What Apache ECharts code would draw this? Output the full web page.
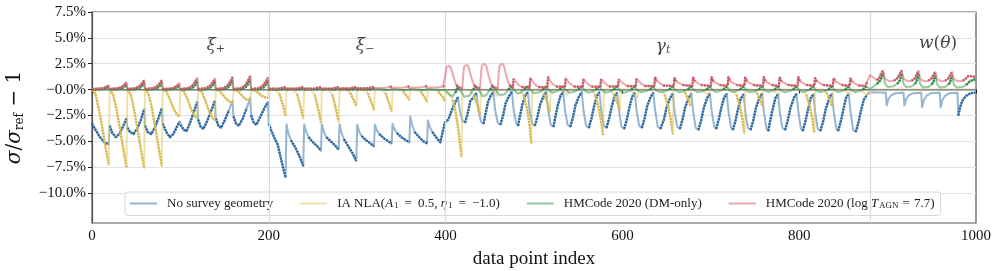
<!DOCTYPE html>
<html><head><meta charset="utf-8">
<script src="https://cdn.jsdelivr.net/npm/echarts/dist/echarts.min.js"></script>
<style>html,body{margin:0;padding:0;background:#fff}#c{width:997px;height:271px}</style>
</head><body><div id="c"></div><script>
// ---- data: [index, value(%), segment-to-next drawn with markers (1) or line only (0)] ----
const xTicks=[0,200,400,600,800,1000];
const yTicks=[-10,-7.5,-5,-2.5,0,2.5,5,7.5];
const sectionX=[140,309,646,957];
const sectionY=[4.3,4.3,4.2,4.4];
const sectionNames=['xi+','xi-','gamma_t','w(theta)'];
const separators=[200,400,880];
const legendNames=['No survey geometry','IA NLA','HMCode DM','HMCode AGN'];

const blueXiPlus=[
[0,-3.3,1],[4,-3.9,1],[9,-4.6,1],[14,-5.1,1],[19,-5.3,0],
[20,-3.5,1],[23,-4.2,1],[27,-4.6,1],[31,-4.3,1],[35,-3.6,1],[39,-2.8,0],
[40,-3.7,1],[43,-4.1,1],[47,-4.3,1],[51,-3.8,1],[55,-3.0,1],[59,-1.9,0],
[60,-3.5,1],[63,-4.1,1],[67,-4.3,1],[71,-3.7,1],[75,-2.8,1],[79,-1.8,0],
[80,-3.3,1],[84,-4.1,1],[88,-4.6,1],[92,-4.3,1],[96,-3.6,1],[99,-3.1,0],
[100,-3.4,1],[104,-3.9,1],[107,-4.0,1],[111,-3.2,1],[115,-2.2,1],[119,-1.2,0],
[120,-2.9,1],[123,-3.6,1],[126,-3.8,1],[130,-3.1,1],[135,-2.0,1],[139,-1.1,0],
[140,-2.8,1],[143,-3.5,1],[146,-3.7,1],[150,-3.0,1],[155,-2.0,0],[159,-1.1,0],
[160,-2.6,1],[163,-3.3,1],[166,-3.5,1],[170,-2.9,1],[175,-1.8,0],[179,-0.8,0],
[180,-2.5,1],[183,-3.2,1],[186,-3.4,1],[190,-2.7,1],[195,-1.8,1],[199,-1.2,0]];
const blueXiMinus=[
[200,-3.3,1],[203,-4.0,1],[207,-4.8,1],[210,-5.3,1],[213,-6.4,1],[216,-7.5,1],[219,-8.5,0],
[220,-3.35,0],[222,-4.2,0],[225,-4.9,1],[230,-5.6,1],[235,-6.5,1],[239,-7.4,0],
[240,-3.35,0],[242,-4.0,0],[245,-4.6,1],[250,-5.1,1],[255,-5.5,1],[259,-5.9,0],
[260,-3.35,0],[262,-4.0,0],[265,-4.6,1],[270,-5.0,1],[275,-5.4,1],[279,-5.8,0],
[280,-3.35,0],[282,-4.1,0],[285,-4.8,1],[290,-5.5,1],[295,-6.2,1],[299,-6.9,0],
[300,-3.4,0],[302,-4.0,0],[305,-4.5,1],[310,-4.9,1],[315,-5.2,1],[319,-5.5,0],
[320,-3.4,0],[322,-3.9,0],[325,-4.3,1],[330,-4.7,1],[335,-5.0,1],[339,-5.2,0],
[340,-3.3,0],[342,-3.8,0],[345,-4.2,1],[350,-4.6,1],[355,-4.9,1],[359,-5.1,0],
[360,-2.6,0],[362,-3.4,0],[365,-4.1,1],[370,-4.6,1],[375,-5.0,1],[379,-5.2,0],
[380,-3.0,0],[382,-3.6,0],[385,-4.1,1],[390,-4.7,1],[394,-5.1,1],[397,-4.0,1],[399,-3.2,1]];
const blueGamma=[
[400,-3.1,1],[403,-2.9,1],[408,-1.8,1],[414,-0.7,0],
[416,-2.0,0],[419,-3.0,0],[422,-3.2,1],[425,-2.3,1],[428,-1.1,1],[432,-0.7,1],[435,-0.3,0],
[437,-2.0,0],[440,-3.1,0],[443,-3.3,1],[445,-2.4,1],[448,-1.2,1],[451,-0.6,1],[454,-0.2,0],
[456,-2.0,0],[459,-3.2,0],[462,-3.4,1],[465,-2.5,1],[468,-1.3,1],[472,-0.6,1],[475,-0.2,0],
[477,-2.0,0],[480,-3.3,0],[482,-3.5,1],[484,-2.6,1],[487,-1.4,1],[490,-0.6,1],[493,-0.2,0],
[495,-2.0,0],[498,-3.3,0],[501,-3.5,1],[504,-2.6,1],[507,-1.4,1],[511,-0.6,1],[514,-0.2,0],
[516,-2.0,0],[519,-3.4,0],[522,-3.6,1],[524,-2.7,1],[527,-1.5,1],[530,-0.6,1],[533,-0.2,0],
[535,-2.0,0],[538,-3.4,0],[541,-3.6,1],[544,-2.7,1],[547,-1.5,1],[551,-0.65,1],[554,-0.25,0],
[556,-2.0,0],[559,-3.5,0],[562,-3.7,1],[565,-2.8,1],[568,-1.6,1],[571,-0.65,1],[574,-0.25,0],
[576,-2.0,0],[579,-3.5,0],[582,-3.7,1],[585,-2.8,1],[588,-1.6,1],[591,-0.7,1],[594,-0.3,0],
[596,-2.0,0],[599,-3.6,0],[602,-3.8,1],[605,-2.9,1],[608,-1.7,1],[611,-0.7,1],[614,-0.3,0],
[616,-2.0,0],[619,-3.5,0],[622,-3.7,1],[625,-2.8,1],[628,-1.6,1],[632,-0.7,1],[635,-0.3,0],
[637,-2.0,0],[640,-3.6,0],[643,-3.8,1],[647,-2.9,1],[650,-1.7,1],[654,-0.8,1],[657,-0.4,0],
[659,-2.1,0],[662,-3.6,0],[665,-3.8,1],[668,-2.9,1],[671,-1.7,1],[675,-0.8,1],[678,-0.4,0],
[680,-2.1,0],[683,-3.7,0],[686,-3.9,1],[689,-3.0,1],[692,-1.8,1],[696,-0.8,1],[699,-0.4,0],
[701,-2.1,0],[704,-3.6,0],[706,-3.8,1],[709,-2.9,1],[712,-1.7,1],[715,-0.8,1],[718,-0.4,0],
[720,-2.1,0],[723,-3.7,0],[725,-3.9,1],[728,-3.0,1],[731,-1.8,1],[734,-0.85,1],[737,-0.45,0],
[739,-2.1,0],[742,-3.7,0],[745,-3.9,1],[748,-3.0,1],[751,-1.8,1],[755,-0.8,1],[758,-0.4,0],
[760,-2.1,0],[763,-3.8,0],[765,-4.0,1],[767,-3.1,1],[770,-1.9,1],[773,-0.85,1],[776,-0.45,0],
[778,-2.1,0],[781,-3.7,0],[784,-3.9,1],[787,-3.0,1],[790,-1.8,1],[794,-0.8,1],[797,-0.4,0],
[799,-2.1,0],[802,-3.8,0],[804,-4.0,1],[807,-3.1,1],[810,-1.9,1],[813,-0.85,1],[816,-0.45,0],
[818,-2.1,0],[821,-3.8,0],[824,-4.0,1],[827,-3.1,1],[830,-1.9,1],[834,-0.8,1],[837,-0.4,0],
[839,-2.1,0],[842,-3.8,0],[844,-4.0,1],[847,-3.1,1],[850,-1.9,1],[853,-0.8,1],[856,-0.4,0],
[858,-2.1,0],[861,-3.9,0],[864,-4.1,1],[867,-3.2,1],[870,-2.0,1],[873,-1.0,1],[876,-0.6,0]];
const blueW=[
[880,-0.25,0],[898,-0.3,0],[899,-1.55,0],[901,-0.9,0],[904,-0.55,0],[909,-0.35,0],
[918,-0.3,0],[919,-1.55,0],[921,-0.9,0],[924,-0.55,0],[929,-0.35,0],
[938,-0.3,0],[939,-1.7,0],[941,-1.0,0],[944,-0.6,0],[949,-0.35,0],
[959,-0.3,0],[960,-1.7,0],[962,-1.0,0],[965,-0.6,0],[970,-0.35,0],
[979,-0.3,0],[980,-2.5,1],[982,-1.7,1],[985,-1.0,1],[989,-0.6,1],[994,-0.35,1],[999,-0.3,0]];

const yellowXiPlus=[
[0,0,1],[4,-0.4,1],[8,-2.0,1],[12,-3.9,1],[16,-5.9,1],[19,-7.3,0],
[20,0,1],[24,-0.5,1],[28,-2.0,1],[32,-4.0,1],[36,-6.0,1],[39,-7.5,0],
[40,0,1],[44,-0.5,1],[48,-2.1,1],[52,-4.1,1],[56,-6.1,1],[59,-7.6,0],
[60,0,1],[64,-0.4,1],[68,-1.9,1],[72,-3.9,1],[76,-5.9,1],[79,-7.4,0],
[80,0,1],[84,-0.2,1],[88,-0.9,1],[92,-1.8,1],[96,-2.4,1],[99,-2.6,0],
[100,0,1],[104,-0.2,1],[108,-0.9,1],[112,-1.9,1],[116,-2.5,1],[119,-2.8,0],
[120,0,1],[124,-0.2,1],[128,-1.0,1],[132,-2.0,1],[136,-2.7,1],[139,-3.0,0],
[140,0,1],[144,-0.1,1],[148,-0.5,1],[152,-0.9,1],[156,-1.2,1],[159,-1.3,0],
[160,0,1],[164,-0.1,1],[168,-0.4,1],[172,-0.8,1],[176,-1.0,1],[179,-1.1,0],
[180,0,1],[184,-0.1,1],[188,-0.3,1],[192,-0.6,1],[196,-0.75,1],[199,-0.8,0]];
const yellowXiMinus=[
[200,0,0],[208,-0.05,0],[212,-0.4,1],[216,-1.5,1],[219,-2.5,0],
[220,0,0],[228,-0.05,0],[232,-0.45,1],[236,-1.7,1],[239,-2.8,0],
[240,0,0],[248,-0.05,0],[252,-0.5,1],[256,-1.9,1],[259,-3.2,0],
[260,0,0],[268,-0.05,0],[272,-0.5,1],[276,-1.9,1],[279,-3.1,0],
[280,0,0],[288,-0.05,0],[292,-0.3,1],[296,-1.0,1],[299,-1.6,0],
[300,0,0],[308,-0.05,0],[312,-0.35,1],[316,-1.2,1],[319,-2.0,0],
[320,0,0],[328,-0.05,0],[332,-0.35,1],[336,-1.3,1],[339,-2.1,0],
[340,0,0],[348,-0.02,0],[352,-0.2,1],[356,-0.6,1],[359,-1.0,0],
[360,0,0],[368,-0.02,0],[372,-0.2,1],[376,-0.7,1],[379,-1.2,0],
[380,0,0],[388,-0.02,0],[392,-0.2,1],[396,-0.65,1],[399,-1.1,0]];
const yellowGamma=[
[400,0,0],[404,-0.3,0],[408,-1.0,1],[411,-2.0,1],[414,-3.6,1],[418,-6.5,0],
[419,0,0],[428,-0.1,0],[432,-0.6,1],[436,-1.5,1],[439,-2.4,0],
[440,0,0],[450,-0.05,0],[455,-0.3,0],[458,-0.6,0],
[459,0,0],[484,0,0],[488,-0.5,1],[492,-1.8,1],[495,-3.4,1],[497,-5.2,0],
[498,0,0],[507,0,0],[511,-0.4,1],[515,-1.3,1],[518,-2.2,0],
[519,0,0],[530,0,0],[535,-0.3,0],[538,-0.5,0],
[539,0,0],[565,0,0],[569,-0.5,1],[573,-1.7,1],[576,-3.1,1],[578,-4.4,0],
[579,0,0],[586,0,0],[590,-0.4,1],[594,-1.2,1],[597,-2.0,0],
[598,0,0],[608,0,0],[613,-0.4,0],[617,-0.75,0],
[618,0,0],[644,0,0],[648,-0.5,1],[652,-1.7,1],[655,-3.0,1],[657,-4.3,0],
[658,0,0],[667,0,0],[671,-0.3,1],[674,-0.9,1],[677,-1.6,0],
[678,0,0],[689,0,0],[694,-0.3,0],[697,-0.5,0],
[698,0,0],[725,0,0],[729,-0.5,1],[733,-1.6,1],[736,-3.0,1],[738,-4.25,0],
[739,0,0],[748,0,0],[752,-0.3,1],[755,-0.85,1],[758,-1.5,0],
[759,0,0],[769,0,0],[774,-0.3,0],[777,-0.5,0],
[778,0,0],[804,0,0],[808,-0.5,1],[812,-1.6,1],[815,-2.9,1],[817,-4.15,0],
[818,0,0],[827,0,0],[831,-0.3,1],[834,-0.9,1],[837,-1.6,0],
[838,0,0],[849,0,0],[854,-0.3,0],[857,-0.5,0],
[858,0,0],[870,-0.1,0],[876,-0.5,0]];
const yellowW=[[880,0,0],[999,0,0]];

const greenXiPlus=[
[0,0,1],[9,0.03,1],[14,0.08,1],[17,0.18,1],[19,0.3,0],
[20,0,1],[29,0.04,1],[34,0.13,1],[37,0.3,1],[39,0.5,0],
[40,0,1],[49,0.04,1],[54,0.16,1],[57,0.39,1],[59,0.65,0],
[60,0,1],[69,0.04,1],[74,0.16,1],[77,0.39,1],[79,0.65,0],
[80,0,1],[89,0.03,1],[94,0.11,1],[97,0.27,1],[99,0.45,0],
[100,0,1],[109,0.04,1],[114,0.2,1],[117,0.48,1],[119,0.8,0],
[120,0,1],[129,0.04,1],[134,0.2,1],[137,0.48,1],[139,0.8,0],
[140,0,1],[149,0.04,1],[154,0.22,1],[157,0.54,1],[159,0.9,0],
[160,0,1],[169,0.04,1],[174,0.25,1],[177,0.6,1],[179,1.0,0],
[180,0,1],[189,0.04,1],[194,0.21,1],[197,0.51,1],[199,0.85,0]];
const greenXiMinus=[
[200,0.01,1],[215,0.03,1],[219,0.1,0],[220,0.01,1],[235,0.03,1],[239,0.1,0],
[240,0.01,1],[255,0.03,1],[259,0.1,0],[260,0.01,1],[275,0.03,1],[279,0.1,0],
[280,0.01,1],[295,0.03,1],[299,0.1,0],[300,0.01,1],[315,0.03,1],[319,0.1,0],
[320,-0.08,0],[335,-0.05,0],[339,0.05,0],[340,-0.08,0],[355,-0.05,0],[359,0.05,0],
[360,-0.08,0],[375,-0.05,0],[379,0.05,0],[380,-0.08,0],[395,-0.05,0],[399,0.0,0]];
const greenGamma=[
[400,-0.1,0],[404,-0.5,0],[408,-0.65,0],[411,-0.3,1],[414,0.3,0],
[417,-0.1,0],[421,-0.7,0],[427,-0.6,0],[431,0.0,1],[435,0.3,0],
[438,-0.1,0],[442,-0.65,0],[446,-0.55,0],[450,0.0,1],[454,0.3,0],
[457,-0.1,0],[461,-0.55,0],[467,-0.45,0],[471,0.0,1],[475,0.3,0],
[478,-0.1,0],[482,-0.4,0],[485,-0.3,0],[489,0.0,1],[493,0.3,0],
[496,-0.05,0],[500,-0.35,0],[506,-0.25,0],[510,0.0,1],[514,0.3,0],
[517,-0.05,0],[521,-0.3,0],[525,-0.2,0],[529,0.0,1],[533,0.3,0],
[536,-0.05,0],[540,-0.3,0],[546,-0.2,0],[550,0.0,1],[554,0.3,0],
[557,-0.05,0],[561,-0.3,0],[566,-0.2,0],[570,0.0,1],[574,0.3,0],
[577,-0.05,0],[581,-0.3,0],[586,-0.2,0],[590,0.0,1],[594,0.3,0],
[597,-0.05,0],[601,-0.3,0],[606,-0.2,0],[610,0.0,1],[614,0.3,0],
[617,-0.05,0],[621,-0.25,0],[627,-0.15,0],[631,0.0,1],[635,0.3,0],
[638,-0.05,0],[642,-0.25,0],[649,-0.15,0],[653,0.0,1],[657,0.3,0],
[660,-0.05,0],[664,-0.25,0],[670,-0.15,0],[674,0.0,1],[678,0.3,0],
[681,-0.05,0],[685,-0.25,0],[691,-0.15,0],[695,0.0,1],[699,0.3,0],
[702,-0.05,0],[706,-0.25,0],[710,-0.15,0],[714,0.0,1],[718,0.3,0],
[721,-0.05,0],[725,-0.25,0],[729,-0.15,0],[733,0.0,1],[737,0.3,0],
[740,-0.05,0],[744,-0.25,0],[750,-0.15,0],[754,0.0,1],[758,0.3,0],
[761,-0.05,0],[765,-0.25,0],[768,-0.15,0],[772,0.0,1],[776,0.3,0],
[779,-0.05,0],[783,-0.25,0],[789,-0.15,0],[793,0.0,1],[797,0.3,0],
[800,-0.05,0],[804,-0.25,0],[808,-0.15,0],[812,0.0,1],[816,0.3,0],
[819,-0.05,0],[823,-0.25,0],[829,-0.15,0],[833,0.0,1],[837,0.3,0],
[840,-0.05,0],[844,-0.25,0],[848,-0.15,0],[852,0.0,1],[856,0.3,0],
[859,-0.05,0],[863,-0.25,0],[868,-0.15,0],[872,0.0,1],[876,0.3,0]];
const greenW=[
[880,0.05,0],[884,0.3,0],[888,0.55,1],[892,0.9,1],[895,1.6,0],[897,0.6,0],[900,0.25,0],
[906,0.3,0],[911,0.55,1],[914,0.9,1],[916,1.55,0],[918,0.55,0],[921,0.25,0],
[927,0.3,0],[931,0.55,1],[933,0.85,1],[935,1.5,0],[937,0.5,0],[940,0.2,0],
[946,0.25,0],[950,0.5,1],[952,0.8,1],[954,1.4,0],[956,0.5,0],[959,0.2,0],
[965,0.25,0],[969,0.5,1],[971,0.8,1],[973,1.35,0],[975,0.45,0],[978,0.2,0],
[985,0.25,0],[989,0.45,1],[993,0.8,1],[999,1.0,0]];

const redXiPlus=[
[0,0.05,1],[8,0.1,1],[13,0.14,1],[16,0.25,1],[19,0.4,0],
[20,0.05,1],[28,0.12,1],[33,0.21,1],[36,0.42,1],[39,0.7,0],
[40,0.05,1],[48,0.12,1],[53,0.27,1],[56,0.54,1],[59,0.9,0],
[60,0.05,1],[68,0.12,1],[73,0.27,1],[76,0.54,1],[79,0.9,0],
[80,0.05,1],[88,0.1,1],[93,0.18,1],[96,0.36,1],[99,0.6,0],
[100,0.05,1],[108,0.12,1],[113,0.33,1],[116,0.66,1],[119,1.1,0],
[120,0.05,1],[128,0.12,1],[133,0.32,1],[136,0.63,1],[139,1.05,0],
[140,0.05,1],[148,0.12,1],[153,0.36,1],[156,0.72,1],[159,1.2,0],
[160,0.05,1],[168,0.12,1],[173,0.39,1],[176,0.78,1],[179,1.3,0],
[180,0.05,1],[188,0.12,1],[193,0.35,1],[196,0.69,1],[199,1.15,0]];
const redXiMinus=[
[200,0.07,1],[212,0.1,1],[217,0.2,1],[219,0.25,0],
[220,0.07,1],[232,0.1,1],[237,0.2,1],[239,0.25,0],
[240,0.07,1],[252,0.1,1],[257,0.2,1],[259,0.25,0],
[260,0.07,1],[272,0.1,1],[277,0.2,1],[279,0.25,0],
[280,0.08,1],[292,0.12,1],[297,0.22,1],[299,0.27,0],
[300,0.1,1],[312,0.13,1],[317,0.22,1],[319,0.27,0],
[320,0.15,0],[332,0.18,0],[337,0.27,1],[339,0.32,0],
[340,0.17,0],[352,0.2,0],[357,0.28,1],[359,0.33,0],
[360,0.18,0],[372,0.22,0],[377,0.3,1],[379,0.35,0],
[380,0.2,0],[392,0.23,0],[397,0.3,1],[399,0.33,0]];
const redGamma=[
[400,1.5,0],[401,2.2,0],[404,2.3,0],[406,2.1,0],[409,1.2,0],[412,0.45,1],[415,0.2,1],[419,0.15,0],
[420,1.5,0],[421,2.25,0],[424,2.4,0],[426,2.2,0],[429,1.2,0],[432,0.45,1],[435,0.2,1],[439,0.15,0],
[440,1.5,0],[441,2.3,0],[444,2.5,0],[446,2.3,0],[449,1.2,0],[452,0.45,1],[455,0.2,1],[459,0.15,0],
[460,1.5,0],[461,2.3,0],[464,2.5,0],[466,2.3,0],[469,1.2,0],[472,0.45,1],[476,0.2,1],
[477,1.05,0],[479,0.8,0],[482,0.5,0],[486,0.25,1],[495,0.2,1],
[496,1.15,0],[498,0.85,0],[501,0.5,0],[505,0.25,1],[515,0.2,1],
[516,1.25,0],[518,0.9,0],[521,0.55,0],[525,0.3,1],[535,0.25,1],
[536,1.1,0],[538,0.85,0],[541,0.55,0],[545,0.3,1],[555,0.25,1],
[556,1.0,0],[558,0.8,0],[561,0.55,0],[565,0.3,1],[575,0.25,1],
[576,1.0,0],[578,0.8,0],[581,0.55,0],[585,0.3,1],[595,0.3,1],
[596,1.0,0],[598,0.8,0],[601,0.6,0],[605,0.35,1],[615,0.3,1],
[616,1.05,0],[618,0.85,0],[621,0.6,0],[625,0.35,1],[636,0.35,1],
[637,1.15,1],[639,0.85,0],[642,0.65,0],[646,0.4,1],[658,0.35,1],
[659,1.1,1],[661,0.8,0],[664,0.65,0],[668,0.45,1],[679,0.35,1],
[680,1.15,1],[682,0.8,0],[685,0.65,0],[689,0.45,1],[700,0.35,1],
[701,1.2,1],[703,0.8,0],[706,0.65,0],[710,0.45,1],[719,0.35,1],
[720,1.2,1],[722,0.8,0],[725,0.65,0],[729,0.45,1],[738,0.35,1],
[739,1.15,1],[741,0.8,0],[744,0.65,0],[748,0.45,1],[759,0.35,1],
[760,1.2,1],[762,0.8,0],[765,0.65,0],[769,0.45,1],[777,0.35,1],
[778,1.15,1],[780,0.8,0],[783,0.65,0],[787,0.45,1],[798,0.35,1],
[799,1.2,1],[801,0.8,0],[804,0.65,0],[808,0.45,1],[817,0.35,1],
[818,1.1,1],[820,0.8,0],[823,0.65,0],[827,0.45,1],[838,0.35,1],
[839,1.1,1],[841,0.8,0],[844,0.65,0],[848,0.45,1],[857,0.35,1],
[858,1.05,1],[860,0.75,0],[863,0.6,0],[867,0.4,1],[875,0.35,1],[877,0.8,0]];
const redW=[
[880,1.4,0],[882,1.5,0],[885,1.1,0],[888,0.9,1],[891,1.2,1],[893,1.6,1],[895,1.85,0],
[897,1.05,0],[902,0.8,0],[907,0.85,1],[911,1.1,1],[914,1.55,1],[916,1.85,0],
[918,1.05,0],[923,0.8,0],[927,0.85,1],[931,1.1,1],[933,1.5,1],[935,1.8,0],
[937,1.0,0],[942,0.8,0],[946,0.85,1],[950,1.1,1],[952,1.45,1],[954,1.7,0],
[956,1.0,0],[961,0.8,0],[965,0.85,1],[969,1.1,1],[971,1.45,1],[973,1.7,0],
[975,1.0,0],[980,0.8,0],[985,0.85,1],[989,1.1,1],[991,1.3,1],[993,1.4,1],[996,1.3,1],[999,1.2,0]];

// ---- build line + marker-run data ----
function build(parts){
  const v=[].concat(...parts);
  const full=v.map(p=>[p[0],p[1]]);
  const dots=[]; let last=-5;
  for(let i=0;i<v.length-1;i++){
    if(v[i][2]===1){
      if(last!==i){ if(dots.length) dots.push(null); dots.push([v[i][0],v[i][1]]); }
      dots.push([v[i+1][0],v[i+1][1]]); last=i+1;
    }
  }
  return {full,dots};
}
const B=build([blueXiPlus,blueXiMinus,blueGamma,blueW]);
const Y=build([yellowXiPlus,yellowXiMinus,yellowGamma,yellowW]);
const G=build([greenXiPlus,greenXiMinus,greenGamma,greenW]);
const R=build([redXiPlus,redXiMinus,redGamma,redW]);

const FONT="'Liberation Serif','DejaVu Serif',serif";
function faint(name,data,color,z){
  return {type:'line',name,data,symbol:'none',showSymbol:false,silent:true,animation:false,z,
    connectNulls:false,lineStyle:{color,width:2,join:'round'},itemStyle:{color}};
}
function beads(data,color,z){
  return {type:'line',data,symbol:'none',showSymbol:false,silent:true,animation:false,z,
    connectNulls:false,lineStyle:{color,width:2.4,type:[2,1],cap:'butt',join:'round'}};
}
const labelRich={
  m:{fontFamily:"'DejaVu Serif',serif",fontStyle:'italic',fontSize:17,color:'#111'},
  s:{fontFamily:"'DejaVu Serif',serif",fontSize:11,color:'#111',padding:[9,0,0,0]},
  t:{fontFamily:"'DejaVu Serif',serif",fontStyle:'italic',fontSize:11,color:'#111',padding:[9,0,0,0]},
  r:{fontFamily:"'DejaVu Serif',serif",fontSize:17,color:'#111'}
};
const labelText=['{m|ξ}{s|+}','{m|ξ}{s|−}','{m|γ}{t|t}','{m|w}{r|(}{m|θ}{r|)}'];

const chart=echarts.init(document.getElementById('c'),null,{renderer:'canvas'});
chart.setOption({
  animation:false,
  backgroundColor:'#fff',
  grid:{left:92,right:21,top:12,bottom:48,show:true,borderColor:'#555',borderWidth:1.2,
    backgroundColor:'transparent',containLabel:false,outerBoundsMode:'none'},
  xAxis:{type:'value',min:0,max:1000,interval:200,
    axisLine:{show:true,lineStyle:{color:'#222',width:1.2}},
    axisTick:{show:true,inside:false,length:4,lineStyle:{color:'#222'}},
    splitLine:{show:false},
    axisLabel:{fontFamily:FONT,fontSize:15,color:'#111',margin:6,formatter:v=>String(v)},
    name:'data point index',nameLocation:'middle',nameGap:27,
    nameTextStyle:{fontFamily:FONT,fontSize:19,color:'#111'}},
  yAxis:{type:'value',min:-12.9,max:7.5,
    axisLine:{show:true,lineStyle:{color:'#555',width:1.2}},
    axisTick:{show:true,length:4,customValues:yTicks,lineStyle:{color:'#222'}},
    splitLine:{show:true,lineStyle:{color:'#e3e3e3',width:1}},
    axisLabel:{customValues:yTicks,fontFamily:FONT,fontSize:15,color:'#111',margin:6,
      formatter:v=>(v<=0?'−':'')+Math.abs(v).toFixed(1)+'%'},
    name:'{a|σ}{b|/}{a|σ}{c|ref}{b| − 1}',nameLocation:'middle',nameGap:66,nameRotate:90,
    nameTextStyle:{rich:{
      a:{fontFamily:"'DejaVu Serif',serif",fontStyle:'italic',fontSize:20,color:'#111'},
      b:{fontFamily:"'DejaVu Serif',serif",fontSize:20,color:'#111'},
      c:{fontFamily:"'DejaVu Serif',serif",fontSize:12,color:'#111',padding:[11,0,0,0]}}}},
  legend:{show:true,left:125,top:192,orient:'horizontal',
    data:legendNames,icon:'rect',itemWidth:27,itemHeight:2,itemGap:27,padding:[5,6,5,5],
    borderColor:'#d8d8d8',borderWidth:1,borderRadius:3,backgroundColor:'rgba(255,255,255,0.85)',
    selectedMode:false,
    formatter:n=>({
      'No survey geometry':'{p|No survey geometry}',
      'IA NLA':'{p|IA NLA(}{i|A}{s|1}{q|=}{r|0.5, }{i|η}{s|1}{q|=}{r|−1.0)}',
      'HMCode DM':'{p|HMCode 2020 (DM-only)}',
      'HMCode AGN':'{p|HMCode 2020 (log }{i|T}{s|AGN}{e|=}{r|7.7)}'
    })[n],
    textStyle:{rich:{
      p:{fontFamily:FONT,fontSize:13,color:'#222',padding:[0,0,0,5]},
      r:{fontFamily:FONT,fontSize:13,color:'#222'},
      q:{fontFamily:FONT,fontSize:13,color:'#222',padding:[0,6,0,6]},
      e:{fontFamily:FONT,fontSize:13,color:'#222',padding:[0,4,0,4]},
      i:{fontFamily:FONT,fontStyle:'italic',fontSize:13,color:'#222',padding:[0,1,0,0]},
      s:{fontFamily:FONT,fontSize:9,color:'#222',padding:[5,0,0,0]}}}},
  series:[
    {type:'line',data:[],silent:true,z:1,symbol:'none',
      markLine:{silent:true,symbol:'none',label:{show:false},animation:false,
        data:separators.map(x=>({xAxis:x,lineStyle:{color:'#dadada',width:1.2,type:'solid'}}))
          .concat([{yAxis:0,lineStyle:{color:'#9a9a9a',width:1.5,type:'solid'}}])}},
    faint(legendNames[0],B.full,'rgba(46,108,164,0.5)',2),
    beads(B.dots,'#2a66a0',3),
    faint(legendNames[1],Y.full,'rgba(222,196,90,0.5)',4),
    beads(Y.dots,'#d6b94e',5),
    faint(legendNames[2],G.full,'rgba(40,150,70,0.5)',6),
    beads(G.dots,'#2d8a40',7),
    faint(legendNames[3],R.full,'rgba(220,80,100,0.5)',8),
    beads(R.dots,'#c25a66',9),
    {type:'scatter',data:sectionX.map((x,i)=>[x,sectionY[i]]),symbolSize:0,silent:true,z:10,
      label:{show:true,position:'inside',formatter:p=>labelText[p.dataIndex],rich:labelRich}}
  ]
});
</script></body></html>
